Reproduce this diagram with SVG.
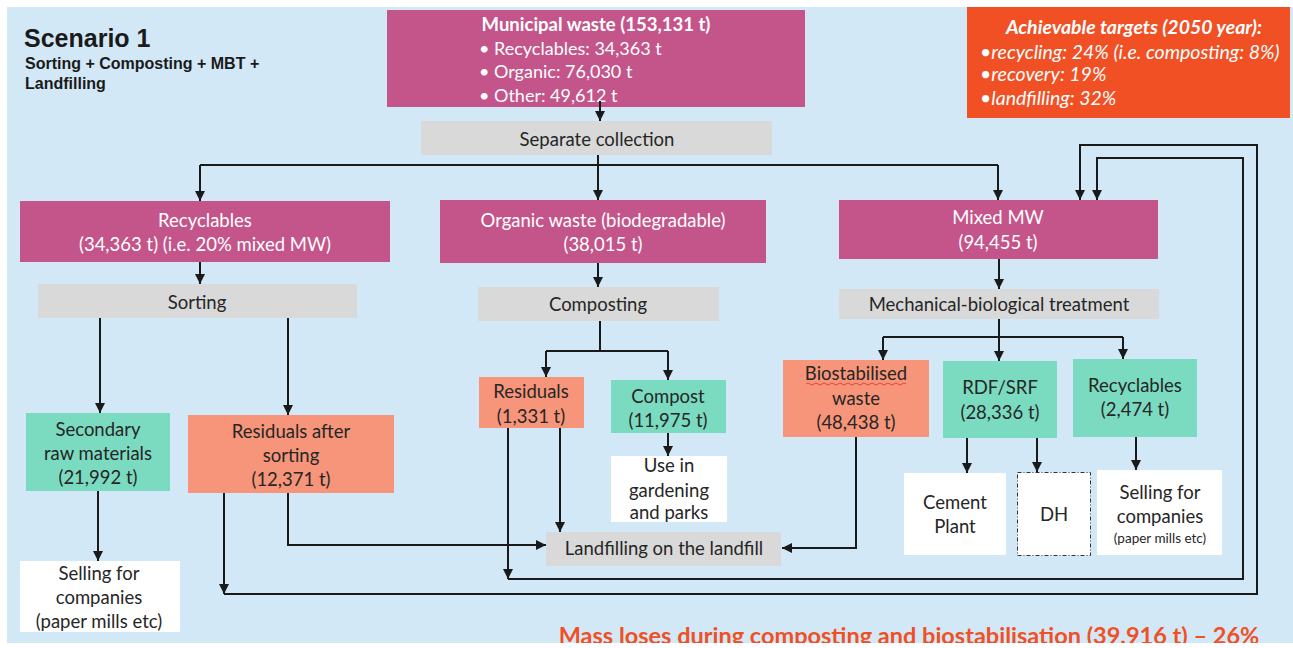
<svg xmlns="http://www.w3.org/2000/svg" width="1293" height="648" viewBox="0 0 1293 648">
<defs>
<style>
.bg{fill:#D2E8F6}
.mag{fill:#C4558A}
.gray{fill:#D9D9D9}
.teal{fill:#7BDBC0}
.sal{fill:#F6957A}
.wht{fill:#FFFFFF}
.org{fill:#F05024}
text{font-family:Lato,"Open Sans","Liberation Sans",sans-serif;font-size:18.5px;text-anchor:middle}
.w{fill:#FFFFFF}
.d{fill:#262626}
.tg{font-size:19.5px;font-style:italic}
.conn path{fill:none;stroke:#1A1A1A;stroke-width:2}
.conn path.a{marker-end:url(#ah)}
</style>
<marker id="ah" viewBox="0 0 10 10" refX="10" refY="5" markerWidth="10" markerHeight="10" markerUnits="userSpaceOnUse" orient="auto">
<path d="M0,0 L10,5 L0,10 z" fill="#1A1A1A"/>
</marker>
</defs>
<rect x="0" y="0" width="1293" height="648" fill="#FFFFFF"/>
<rect class="bg" x="7" y="7" width="1286" height="636"/>

<g id="title">
<text x="24" y="47" style="font-family:'Liberation Sans',Arial,sans-serif;font-size:25px;font-weight:bold;text-anchor:start" fill="#1A1A1A">Scenario 1</text>
<text x="25" y="69" style="font-family:'Liberation Sans',Arial,sans-serif;font-size:16px;font-weight:bold;text-anchor:start" fill="#1A1A1A">Sorting + Composting + MBT +</text>
<text x="25" y="89" style="font-family:'Liberation Sans',Arial,sans-serif;font-size:16px;font-weight:bold;text-anchor:start" fill="#1A1A1A">Landfilling</text>
</g>

<g id="targets">
<rect class="org" x="967" y="7" width="323" height="111"/>
<text class="w tg" x="1134" y="34" style="font-weight:bold">Achievable targets (2050 year):</text>
<text class="w tg" x="980" y="59" style="text-anchor:start">•recycling: 24% (i.e. composting: 8%)</text>
<text class="w tg" x="980" y="81" style="text-anchor:start">•recovery: 19%</text>
<text class="w tg" x="980" y="105" style="text-anchor:start">•landfilling: 32%</text>
</g>

<g id="municipal">
<rect class="mag" x="387" y="10" width="418" height="97"/>
<text class="w" x="596" y="31" style="font-weight:bold">Municipal waste (153,131 t)</text>
<text class="w" x="479" y="55" style="text-anchor:start;font-size:18px">• Recyclables: 34,363 t</text>
<text class="w" x="479" y="78" style="text-anchor:start;font-size:18px">• Organic: 76,030 t</text>
<text class="w" x="479" y="102" style="text-anchor:start;font-size:18px">• Other: 49,612 t</text>
</g>

<g id="separate">
<rect class="gray" x="421" y="121" width="351" height="34"/>
<text class="d" x="597" y="146">Separate collection</text>
</g>

<g id="recyclables">
<rect class="mag" x="20" y="201" width="370" height="61"/>
<text class="w" x="205" y="227">Recyclables</text>
<text class="w" x="205" y="251">(34,363 t) (i.e. 20% mixed MW)</text>
</g>

<g id="organic">
<rect class="mag" x="440" y="200" width="326" height="63"/>
<text class="w" x="603" y="227">Organic waste (biodegradable)</text>
<text class="w" x="603" y="251">(38,015 t)</text>
</g>

<g id="mixed">
<rect class="mag" x="839" y="200" width="319" height="59"/>
<text class="w" x="998" y="224">Mixed MW</text>
<text class="w" x="998" y="249">(94,455 t)</text>
</g>

<g id="sorting">
<rect class="gray" x="38" y="284" width="319" height="34"/>
<text class="d" x="197" y="309">Sorting</text>
</g>

<g id="composting">
<rect class="gray" x="478" y="287" width="241" height="34"/>
<text class="d" x="598" y="311">Composting</text>
</g>

<g id="mbt">
<rect class="gray" x="839" y="289" width="320" height="30"/>
<text class="d" x="999" y="311">Mechanical-biological treatment</text>
</g>

<g id="secondary">
<rect class="teal" x="26" y="413" width="144" height="78"/>
<text class="d" x="98" y="436">Secondary</text>
<text class="d" x="98" y="460">raw materials</text>
<text class="d" x="98" y="484">(21,992 t)</text>
</g>

<g id="residuals-sorting">
<rect class="sal" x="188" y="415" width="206" height="78"/>
<text class="d" x="291" y="438">Residuals after</text>
<text class="d" x="291" y="462">sorting</text>
<text class="d" x="291" y="486">(12,371 t)</text>
</g>

<g id="selling-left">
<rect class="wht" x="20" y="561" width="160" height="71"/>
<text class="d" x="99" y="580">Selling for</text>
<text class="d" x="99" y="604">companies</text>
<text class="d" x="99" y="628">(paper mills etc)</text>
</g>

<g id="residuals-comp">
<rect class="sal" x="479" y="377" width="105" height="51"/>
<text class="d" x="531" y="398">Residuals</text>
<text class="d" x="531" y="423">(1,331 t)</text>
</g>

<g id="compost">
<rect class="teal" x="611" y="380" width="115" height="53"/>
<text class="d" x="668" y="403">Compost</text>
<text class="d" x="668" y="427">(11,975 t)</text>
</g>

<g id="gardening">
<rect class="wht" x="611" y="456" width="116" height="66"/>
<text class="d" x="669" y="472">Use in</text>
<text class="d" x="669" y="497">gardening</text>
<text class="d" x="669" y="519">and parks</text>
</g>

<g id="landfilling">
<rect class="gray" x="546" y="532" width="235" height="34"/>
<text class="d" x="664" y="555">Landfilling on the landfill</text>
</g>

<g id="biostabilised">
<rect class="sal" x="783" y="360" width="146" height="77"/>
<text class="d" x="856" y="380">Biostabilised</text>
<path d="M806,384 q2,-2 4,0 t4,0 t4,0 t4,0 t4,0 t4,0 t4,0 t4,0 t4,0 t4,0 t4,0 t4,0 t4,0 t4,0 t4,0 t4,0 t4,0 t4,0 t4,0 t4,0 t4,0 t4,0 t4,0 t4,0 t4,0" fill="none" stroke="#E8423A" stroke-width="1"/>
<text class="d" x="856" y="405">waste</text>
<text class="d" x="856" y="429">(48,438 t)</text>
</g>

<g id="rdf">
<rect class="teal" x="943" y="361" width="114" height="77"/>
<text class="d" x="1000" y="394">RDF/SRF</text>
<text class="d" x="1000" y="419">(28,336 t)</text>
</g>

<g id="recyclables-mbt">
<rect class="teal" x="1073" y="359" width="124" height="78"/>
<text class="d" x="1135" y="392">Recyclables</text>
<text class="d" x="1135" y="416">(2,474 t)</text>
</g>

<g id="cement">
<rect class="wht" x="904" y="473" width="102" height="82"/>
<text class="d" x="955" y="509">Cement</text>
<text class="d" x="955" y="533">Plant</text>
</g>

<g id="dh">
<rect class="wht" x="1017.5" y="472.5" width="73" height="83" stroke="#333333" stroke-width="1" stroke-dasharray="4,2,1,2"/>
<text class="d" x="1054" y="521">DH</text>
</g>

<g id="selling-right">
<rect class="wht" x="1097" y="470" width="125" height="85"/>
<text class="d" x="1160" y="499">Selling for</text>
<text class="d" x="1160" y="523">companies</text>
<text class="d" x="1160" y="543" style="font-size:13.5px">(paper mills etc)</text>
</g>

<g id="connectors" class="conn">
<path class="a" d="M600,101 V121"/>
<path class="a" d="M598,155 V200"/>
<path d="M200,165 H998"/>
<path class="a" d="M200,165 V201"/>
<path class="a" d="M998,165 V200"/>
<path class="a" d="M200,262 V284"/>
<path class="a" d="M100,318 V413"/>
<path class="a" d="M288,318 V415"/>
<path class="a" d="M98,491 V561"/>
<path class="a" d="M288,493 V545 H546"/>
<path class="a" d="M224,493 V594"/>
<path class="a" d="M224,594 H1257 V145 H1080 V200"/>
<path class="a" d="M598,263 V287"/>
<path d="M600,321 V351"/>
<path d="M546,351 H668"/>
<path class="a" d="M546,351 V377"/>
<path class="a" d="M668,351 V380"/>
<path class="a" d="M668,433 V456"/>
<path class="a" d="M508,428 V579"/>
<path class="a" d="M508,579 H1243 V158 H1097 V200"/>
<path class="a" d="M560,428 V532"/>
<path class="a" d="M856,437 V548 H782"/>
<path class="a" d="M999,259 V289"/>
<path class="a" d="M999,319 V361"/>
<path d="M883,337 H1123"/>
<path class="a" d="M883,337 V360"/>
<path class="a" d="M1123,337 V359"/>
<path class="a" d="M967,438 V473"/>
<path class="a" d="M1037,438 V472"/>
<path class="a" d="M1136,437 V470"/>
</g>

<g id="footer">
<text x="909" y="644" style="font-size:23.5px;font-weight:bold" fill="#F05024">Mass loses during composting and biostabilisation (39.916 t) – 26%</text>
<rect x="0" y="643" width="1293" height="5" fill="#FFFFFF"/>
</g>
</svg>
